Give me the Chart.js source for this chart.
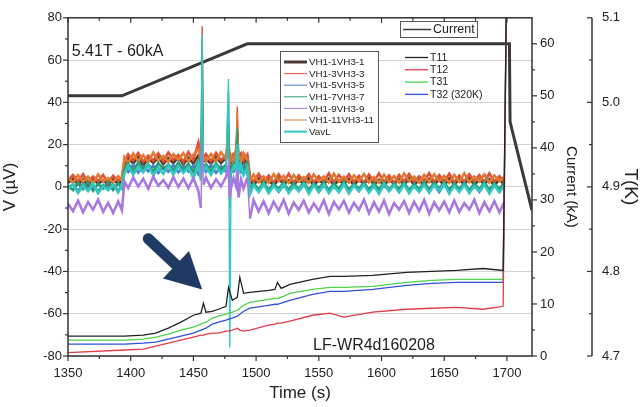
<!DOCTYPE html>
<html>
<head>
<meta charset="utf-8">
<script src="https://cdn.jsdelivr.net/npm/chart.js@4.4.1/dist/chart.umd.min.js"></script>
<style>
  html, body { margin: 0; padding: 0; background: #fff; }
</style>
</head>
<body>
<canvas id="quenchChart" width="644" height="407"></canvas>
<script>
// voltage taps: sample times (s)
const tV = [1350,1354,1358,1362,1366,1370,1374,1378,1382,1386,1390,1393,
  1395,1398,1402,1406,1410,1414,1418,1422,1426,1430,1434,1438,1442,1446,1450,1454,1456,1457,1458,1460,1464,1468,1472,1476,1478,1479,1480,1482,1484,1485,1486,1488,1490,1493,
  1495,1498,1502,1506,1510,1514,1518,1522,1526,1530,1534,1538,1542,1546,1550,1554,1558,1562,1566,1570,1574,1578,1582,1586,1590,1594,1598,1602,1606,1610,1614,1618,1622,1626,1630,1634,1638,1642,1646,1650,1654,1658,1662,1666,1670,1674,1678,1682,1686,1690,1694,1698];

// voltages (uV)
const vh1 = [2.0,3.8,1.2,3.5,0.8,3.9,1.5,3.2,1.0,3.6,1.4,3.0,
  10.5,13.8,11.0,14.2,10.2,13.5,11.4,14.0,10.8,13.6,11.2,14.3,10.6,13.9,11.0,15.0,10.0,45.0,12.0,13.2,10.9,14.1,11.3,13.7,18.0,9.0,11.5,13.6,14.0,25.0,12.0,13.4,10.8,13.8,
  3.5,0.8,3.9,1.2,3.3,0.6,3.8,1.4,3.1,0.9,3.7,1.1,4.0,0.7,3.4,1.3,3.9,0.9,3.2,1.5,3.8,0.8,3.6,1.2,4.1,1.0,3.3,0.7,3.7,1.4,3.5,0.9,4.0,1.1,3.2,0.8,3.8,1.3,3.4,0.6,3.9,1.2,3.6,1.0,4.2,0.9,3.5,1.3,3.7,0.8,3.4,1.1];
const vh3 = [3.0,5.6,2.4,6.0,2.1,4.9,2.8,5.7,1.9,5.2,2.6,4.6,
  12.0,15.4,12.6,16.0,11.9,14.8,12.4,15.9,12.1,16.3,12.7,15.1,11.8,16.5,12.9,21.0,13.0,76.0,13.5,15.5,12.2,16.1,12.6,15.0,22.0,12.0,12.8,15.7,16.0,38.0,14.0,15.8,12.4,15.2,
  5.4,2.3,6.1,2.6,5.3,2.0,5.9,2.4,6.2,1.9,5.5,2.8,6.0,2.2,5.1,2.5,6.4,2.1,5.7,2.7,6.0,2.3,5.2,2.0,5.8,2.6,6.3,2.2,5.4,1.8,5.6,2.5,6.1,2.4,5.0,2.9,6.5,2.1,5.5,2.6,6.2,2.0,5.3,2.4,6.0,2.7,5.6,2.2,6.4,2.5,5.1,2.3];
const vh5 = [-0.5,1.2,-2.0,1.5,-1.2,0.8,-2.2,1.0,-1.0,1.4,-1.8,0.6,
  9.5,7.0,10.4,6.8,9.8,7.4,10.2,6.6,9.6,7.2,10.5,6.9,9.9,7.3,10.1,6.0,8.0,50.0,9.0,7.1,10.3,6.7,9.7,7.0,30.0,-10.0,8.0,7.2,9.0,22.0,8.0,7.0,10.0,6.8,
  -1.0,1.3,-2.1,0.9,-1.5,1.5,-2.3,0.7,-1.2,1.2,-2.0,1.0,-1.7,1.4,-2.4,0.8,-1.3,1.1,-2.2,1.3,-1.6,0.9,-2.0,1.4,-1.1,1.0,-2.3,0.8,-1.5,1.3,-2.1,1.1,-1.4,0.7,-2.2,1.2,-1.8,1.0,-2.4,1.3,-1.2,0.9,-2.0,1.5,-1.6,0.8,-2.3,1.1,-1.4,1.2,-1.9,0.9];
const vh7 = [0.5,-1.5,2.0,-1.0,2.4,-1.8,1.6,-0.8,2.2,-1.4,1.8,-0.6,
  8.0,11.0,7.5,11.5,8.2,10.8,7.2,11.3,8.4,10.6,7.6,11.6,8.0,10.9,7.0,12.5,6.0,70.0,9.0,10.7,7.4,11.2,8.1,10.5,45.0,2.0,8.0,11.0,12.0,28.0,9.0,10.8,7.5,11.1,
  -2.0,1.8,-1.2,2.3,-1.6,1.5,-0.9,2.1,-1.8,1.9,-1.1,2.4,-1.5,1.6,-0.7,2.2,-1.9,1.7,-1.0,2.5,-1.4,1.4,-0.8,2.0,-1.7,1.8,-1.2,2.3,-1.5,1.6,-0.9,2.1,-1.8,1.5,-1.1,2.4,-1.3,1.9,-0.8,2.2,-1.6,1.7,-1.0,2.0,-1.9,1.8,-1.2,2.3,-1.4,1.6,-0.9,2.0];
const vh9 = [-8.0,-11.5,-6.5,-12.0,-7.2,-10.8,-6.0,-11.8,-7.5,-12.3,-6.8,-11.0,
  2.5,-0.5,4.5,0.2,3.8,-0.8,4.9,0.5,3.2,-0.3,4.6,0.0,3.9,-0.6,4.2,-2.0,-10.0,20.0,1.0,4.4,-0.4,3.6,0.3,4.8,10.0,-5.0,-0.2,4.1,0.5,8.0,-5.0,3.5,-0.7,4.3,
  -15.0,-6.2,-11.6,-6.8,-12.4,-7.0,-11.2,-6.1,-12.6,-7.4,-10.9,-6.5,-12.1,-7.8,-11.4,-6.3,-12.8,-7.1,-10.6,-6.6,-12.2,-7.5,-11.0,-6.0,-12.5,-7.2,-11.7,-6.4,-12.9,-7.6,-10.8,-6.7,-12.3,-7.0,-11.3,-6.2,-12.7,-7.3,-11.1,-6.9,-12.0,-6.4,-11.8,-7.7,-10.7,-6.1,-12.4,-7.2,-11.5,-6.8,-12.1,-7.0];
const vh11 = [4.5,2.0,5.5,2.5,4.8,1.8,5.9,2.6,4.2,2.2,5.0,3.0,
  14.0,11.5,15.8,12.2,15.0,11.8,16.2,12.5,14.6,11.9,15.5,12.8,16.0,12.0,15.2,18.0,12.5,30.0,14.0,12.3,15.6,12.0,16.4,13.0,20.0,10.0,14.8,12.2,18.0,35.0,15.0,12.5,15.9,13.0,
  2.5,5.8,2.2,4.9,1.9,6.0,2.8,5.2,2.0,5.6,2.4,4.6,1.8,5.9,2.6,5.0,2.1,6.2,2.5,4.8,2.0,5.5,2.7,6.1,2.2,4.7,1.9,5.8,2.4,5.1,2.0,6.3,2.6,4.9,2.1,5.7,2.3,6.0,2.8,5.2,1.9,5.6,2.5,6.4,2.2,5.0,2.6,5.9,2.0,5.4,2.7,4.8];
const vavl = [-1.0,1.2,-2.8,0.6,-2.0,1.5,-3.0,0.4,-1.6,1.0,-2.6,0.8,
  6.5,10.0,5.8,9.6,6.9,10.3,5.5,9.2,6.2,10.1,5.9,9.8,6.6,9.4,4.0,11.0,3.0,72.0,7.0,9.5,5.7,10.2,6.4,9.0,51.0,-76.0,6.0,9.7,8.0,20.0,6.5,9.9,5.6,9.3,
  -3.5,0.8,-2.4,1.4,-3.0,0.5,-2.0,1.2,-2.8,0.3,-1.8,1.5,-3.2,0.9,-2.2,1.1,-2.9,0.4,-2.5,1.3,-3.1,0.7,-1.9,1.0,-2.7,0.6,-3.3,1.4,-2.1,0.8,-2.6,1.2,-3.0,0.5,-2.3,1.1,-2.8,0.9,-1.7,1.3,-3.2,0.6,-2.4,1.0,-2.9,0.4,-2.0,1.2,-3.1,0.8,-2.5,0.7];

// temperatures (K)
const tT = [1350,1395,1410,1420,1430,1440,1450,1456,1458,1460,1465,1470,1476,1478,1481,1485,1487,1490,1495,1510,
  1515,1517,1520,1527,1545,1559,1570,1593,1620,1640,1660,1681,1697,1701];
const t11 = [4.7235,4.7235,4.7247,4.7271,4.7329,4.740,4.7482,4.7506,4.7624,4.7518,4.7529,4.7553,4.7588,4.7812,4.7659,4.7694,4.7929,4.7741,4.7753,4.7776,
  4.7788,4.7871,4.780,4.7847,4.7906,4.7941,4.7941,4.7953,4.7988,4.800,4.8012,4.8035,4.8012,5.3];
const t12 = [4.7041,4.7071,4.7082,4.7118,4.7153,4.7188,4.7224,4.7247,4.7247,4.7259,4.7271,4.7271,4.7294,4.7294,4.7306,4.7329,4.7306,4.7294,4.7306,4.7365,
  4.7376,4.7388,4.7388,4.7412,4.7482,4.7506,4.7459,4.7518,4.7553,4.7565,4.7576,4.7553,4.7588,5.3];
const t31 = [4.7188,4.7188,4.72,4.7224,4.7259,4.7306,4.7341,4.7376,4.7388,4.74,4.7447,4.7471,4.7494,4.7506,4.7518,4.7541,4.7565,4.76,4.7635,4.7671,
  4.7682,4.7682,4.7694,4.7741,4.7788,4.7812,4.7812,4.7824,4.7871,4.7894,4.7906,4.7906,4.7906,5.3];
const t32 = [4.7141,4.7141,4.7153,4.7165,4.72,4.7235,4.7271,4.7306,4.7318,4.7329,4.7376,4.74,4.7424,4.7435,4.7447,4.7471,4.7494,4.7529,4.7565,4.76,
  4.7612,4.7612,4.7624,4.7659,4.7729,4.7765,4.7765,4.7788,4.7835,4.7859,4.7871,4.7871,4.7871,5.3];

// magnet current (kA)
const tI = [1350, 1393, 1493, 1702, 1702.5, 1720];
const current = [50, 50, 60, 60, 45, 28];

// tick labels
const timeTicks = [1350, 1400, 1450, 1500, 1550, 1600, 1650, 1700];
const voltTicks = [-80, -60, -40, -20, 0, 20, 40, 60, 80];
const ampTicks = [0, 10, 20, 30, 40, 50, 60];
const tempTicks = [4.7, 4.8, 4.9, 5.0, 5.1];

// annotations
const arrowFrom = [1414, -24.5];
const arrowTo = [1457, -48.5];

const FONT = "'Liberation Sans', Arial, sans-serif";
const INK = '#222';

const pts = (t, v) => t.map((x, i) => ({ x, y: v[i] }));
const series = (label, t, v, color, axis, width, order) => ({
  label, data: pts(t, v), borderColor: color, backgroundColor: color,
  borderWidth: width, yAxisID: axis, order, pointRadius: 0, tension: 0, fill: false
});

// thick noisy bands, thin spikes
const NOISE_W = 2.6;
const noisy = ds => Object.assign(ds, {
  segment: { borderWidth: c => Math.abs(c.p1.parsed.y - c.p0.parsed.y) > 15 ? 1.4 : NOISE_W }
});

const datasets = [
  noisy(series('VH1-1VH3-1', tV, vh1, '#4a3a30', 'y', NOISE_W, 8)),
  noisy(series('VH1-3VH3-3', tV, vh3, '#e0503a', 'y', NOISE_W, 6)),
  noisy(series('VH1-5VH3-5', tV, vh5, '#4a7fd0', 'y', NOISE_W, 7)),
  noisy(series('VH1-7VH3-7', tV, vh7, '#2e9a72', 'y', NOISE_W, 4)),
  noisy(series('VH1-9VH3-9', tV, vh9, '#a878e0', 'y', NOISE_W, 2)),
  noisy(series('VH1-11VH3-11', tV, vh11, '#e07a30', 'y', NOISE_W, 5)),
  noisy(series('VavL', tV, vavl, '#30c8c0', 'y', NOISE_W, 3)),
  series('Current', tI, current, '#3a3a3a', 'yI', 3, 9),
  series('T11', tT, t11, '#222222', 'yT', 1.3, 1),
  series('T12', tT, t12, '#e03c4a', 'yT', 1.3, 1),
  series('T31', tT, t31, '#4cd24c', 'yT', 1.3, 1),
  series('T32 (320K)', tT, t32, '#3050d8', 'yT', 1.3, 1)
];

const setTicks = list => scale => { scale.ticks = list.map(value => ({ value })); };

// frame, minor/major ticks, legends and notes
const decor = {
  id: 'decor',
  afterDraw(chart) {
    const { ctx, chartArea: a, scales } = chart;
    const { x, y, yI, yT } = scales;
    ctx.save();
    ctx.strokeStyle = '#333';
    ctx.lineWidth = 1.5;
    ctx.strokeRect(a.left, a.top, a.right - a.left, a.bottom - a.top);
    ctx.beginPath();
    ctx.moveTo(yT.left, a.top); ctx.lineTo(yT.left, a.bottom);
    ctx.stroke();

    const seg = (x1, y1, x2, y2) => { ctx.beginPath(); ctx.moveTo(x1, y1); ctx.lineTo(x2, y2); ctx.stroke(); };
    const mids = list => list.slice(1).map((v, i) => (v + list[i]) / 2);
    ctx.lineWidth = 1.2;
    timeTicks.forEach(v => { const p = x.getPixelForValue(v); seg(p, a.bottom, p, a.bottom + 5); seg(p, a.top, p, a.top + 5); });
    mids(timeTicks).forEach(v => { const p = x.getPixelForValue(v); seg(p, a.bottom, p, a.bottom + 3); seg(p, a.top, p, a.top + 3); });
    voltTicks.forEach(v => { const p = y.getPixelForValue(v); seg(a.left - 5, p, a.left, p); });
    mids(voltTicks).forEach(v => { const p = y.getPixelForValue(v); seg(a.left - 3, p, a.left, p); });
    ampTicks.forEach(v => { const p = yI.getPixelForValue(v); seg(a.right, p, a.right + 5, p); });
    mids(ampTicks).forEach(v => { const p = yI.getPixelForValue(v); seg(a.right, p, a.right + 3, p); });
    tempTicks.forEach(v => { const p = yT.getPixelForValue(v); seg(yT.left - 5, p, yT.left, p); });
    mids(tempTicks).forEach(v => { const p = yT.getPixelForValue(v); seg(yT.left - 3, p, yT.left, p); });

    // arrow
    const ax0 = x.getPixelForValue(arrowFrom[0]), ay0 = y.getPixelForValue(arrowFrom[1]);
    const ax1 = x.getPixelForValue(arrowTo[0]), ay1 = y.getPixelForValue(arrowTo[1]);
    const ang = Math.atan2(ay1 - ay0, ax1 - ax0);
    const headLen = 36, headHalf = 19;
    const bx = ax1 - headLen * Math.cos(ang), by = ay1 - headLen * Math.sin(ang);
    ctx.strokeStyle = '#1f3b63';
    ctx.fillStyle = '#1f3b63';
    ctx.lineWidth = 11;
    ctx.lineCap = 'round';
    seg(ax0, ay0, bx, by);
    ctx.beginPath();
    ctx.moveTo(ax1, ay1);
    ctx.lineTo(bx + headHalf * Math.sin(ang), by - headHalf * Math.cos(ang));
    ctx.lineTo(bx - headHalf * Math.sin(ang), by + headHalf * Math.cos(ang));
    ctx.closePath();
    ctx.fill();
    ctx.lineCap = 'butt';

    // notes
    ctx.fillStyle = INK;
    ctx.font = `16px ${FONT}`;
    ctx.textBaseline = 'middle';
    ctx.textAlign = 'left';
    ctx.fillText('5.41T - 60kA', x.getPixelForValue(1353), y.getPixelForValue(64));
    ctx.textAlign = 'center';
    ctx.fillText('LF-WR4d160208', x.getPixelForValue(1594), y.getPixelForValue(-75));

    const byLabel = l => chart.data.datasets.find(d => d.label === l);
    const entry = (label, lx, ly, len, width, size) => {
      const d = byLabel(label);
      ctx.strokeStyle = d.borderColor;
      ctx.lineWidth = width;
      seg(lx, ly, lx + len, ly);
      ctx.fillStyle = INK;
      ctx.font = `${size}px ${FONT}`;
      ctx.textAlign = 'left';
      ctx.fillText(label, lx + len + 2, ly + 0.5);
    };

    // current legend box
    ctx.fillStyle = '#fff';
    ctx.fillRect(400, 21, 77, 16);
    ctx.strokeStyle = '#555'; ctx.lineWidth = 1;
    ctx.strokeRect(400.5, 21.5, 77, 16);
    entry('Current', 403, 29.5, 28, 1.5, 12.5);

    // voltage legend box
    ctx.fillStyle = '#fff';
    ctx.fillRect(280, 51, 98, 91);
    ctx.strokeStyle = '#555'; ctx.lineWidth = 1;
    ctx.strokeRect(280.5, 51.5, 98, 91);
    const vLabels = ['VH1-1VH3-1', 'VH1-3VH3-3', 'VH1-5VH3-5', 'VH1-7VH3-7', 'VH1-9VH3-9', 'VH1-11VH3-11', 'VavL'];
    vLabels.forEach((l, i) => entry(l, 284, 62 + i * 11.6, 23, l === 'VH1-1VH3-1' ? 3 : (l === 'VavL' ? 2 : 1), 9.8));

    // temperature legend
    ['T11', 'T12', 'T31', 'T32 (320K)'].forEach((l, i) => entry(l, 405, 57.5 + i * 12.3, 23, 1.3, 10.5));
    ctx.restore();
  }
};

new Chart(document.getElementById('quenchChart'), {
  type: 'line',
  data: { datasets },
  options: {
    responsive: false,
    animation: false,
    devicePixelRatio: 1,
    layout: { padding: { top: 16, left: 0, right: 0, bottom: 0 } },
    plugins: { legend: { display: false }, tooltip: { enabled: false } },
    elements: { point: { radius: 0 }, line: { tension: 0, borderJoinStyle: 'miter' } },
    scales: {
      x: {
        type: 'linear', min: 1350, max: 1720,
        afterBuildTicks: setTicks(timeTicks),
        afterFit: s => { s.height = 51; },
        grid: { display: false, drawTicks: false },
        border: { display: false },
        ticks: { color: INK, font: { family: FONT, size: 13 }, padding: 10, maxRotation: 0, autoSkip: false, callback: v => String(v) },
        title: { display: true, text: 'Time (s)', color: INK, font: { family: FONT, size: 17 }, padding: { top: 0, bottom: 3 } }
      },
      y: {
        position: 'left', min: -80, max: 80,
        afterBuildTicks: setTicks(voltTicks),
        afterFit: s => { s.width = 68; },
        grid: { color: '#d2d2d2', lineWidth: 1, drawTicks: false },
        border: { display: false },
        ticks: { color: INK, font: { family: FONT, size: 13 }, padding: 6 },
        title: { display: true, text: 'V (\u00b5V)', color: INK, font: { family: FONT, size: 17 }, padding: 0 }
      },
      yI: {
        position: 'right', min: 0, max: 65,
        afterBuildTicks: setTicks(ampTicks),
        afterFit: s => { s.width = 60; },
        grid: { display: false, drawTicks: false },
        border: { display: false },
        ticks: { color: INK, font: { family: FONT, size: 13 }, padding: 8 },
        title: { display: true, text: 'Current (kA)', color: INK, font: { family: FONT, size: 15 }, padding: { top: 12, bottom: 0 } }
      },
      yT: {
        position: 'right', min: 4.7, max: 5.1,
        afterBuildTicks: setTicks(tempTicks),
        afterFit: s => { s.width = 52; },
        grid: { display: false, drawTicks: false },
        border: { display: false },
        ticks: { color: INK, font: { family: FONT, size: 13 }, padding: 10, callback: v => v.toFixed(1) },
        title: { display: true, text: 'T(K)', color: INK, font: { family: FONT, size: 19 }, padding: { top: 2, bottom: 0 } }
      }
    }
  },
  plugins: [decor]
});
</script>
</body>
</html>
